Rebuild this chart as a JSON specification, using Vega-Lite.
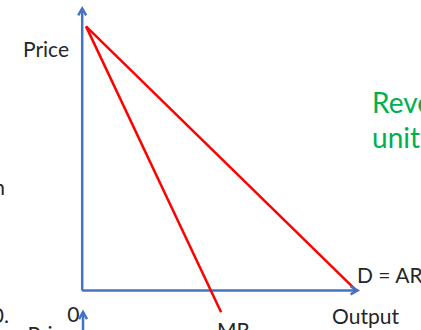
{
  "$schema": "https://vega.github.io/schema/vega-lite/v6.json",
  "width": 421,
  "height": 330,
  "padding": 0,
  "autosize": {"type": "none"},
  "background": "white",
  "config": {"view": {"stroke": null}},
  "datasets": {
    "segments": [
      {"name": "price axis", "kind": "axis", "q": 0, "p": 0, "q2": 0, "p2": 10.68},
      {"name": "output axis", "kind": "axis", "q": 0, "p": 0, "q2": 10.05, "p2": 0},
      {"name": "next price axis", "kind": "axis", "q": 0.03, "p": -0.82, "q2": 0.03, "p2": -1.6},
      {"name": "D = AR", "kind": "curve", "q": 0.14, "p": 10.0, "q2": 10.0, "p2": 0.0},
      {"name": "MR", "kind": "curve", "q": 0.14, "p": 10.0, "q2": 5.07, "p2": -0.83}
    ],
    "arrows": [
      {"name": "price axis", "q": 0, "p": 10.68, "dir": 0},
      {"name": "output axis", "q": 10.05, "p": 0, "dir": 90},
      {"name": "next price axis", "q": 0.03, "p": -0.82, "dir": 0}
    ],
    "labels": [
      {"text": "Price", "role": "plain", "q": -2.16, "p": 8.84},
      {"text": "0", "role": "plain", "q": -0.55, "p": -1.2},
      {"text": "Output", "role": "plain", "q": 9.12, "p": -1.28},
      {"text": "D = AR", "role": "plain", "q": 10.03, "p": 0.28},
      {"text": "MR", "role": "plain", "q": 4.92, "p": -1.8},
      {"text": "n", "role": "plain", "q": -3.25, "p": 3.61},
      {"text": "0.", "role": "plain", "q": -3.3, "p": -1.23},
      {"text": "Price", "role": "plain", "q": -2.0, "p": -1.95},
      {"text": "Revenue per", "role": "note", "q": 10.58, "p": 6.72},
      {"text": "unit", "role": "note", "q": 10.58, "p": 5.4}
    ]
  },
  "encoding": {
    "x": {"field": "q", "type": "quantitative", "scale": {"domain": [-3, 12.365], "nice": false, "zero": false}, "axis": null},
    "y": {"field": "p", "type": "quantitative", "scale": {"domain": [-1.5, 11], "nice": false, "zero": false}, "axis": null}
  },
  "layer": [
    {
      "data": {"name": "segments"},
      "mark": {"type": "rule", "strokeWidth": 2.5},
      "encoding": {
        "x2": {"field": "q2"},
        "y2": {"field": "p2"},
        "color": {"field": "kind", "type": "nominal", "scale": {"domain": ["axis", "curve"], "range": ["#4472C4", "#FF0000"]}, "legend": null}
      }
    },
    {
      "data": {"name": "arrows"},
      "mark": {"type": "point", "shape": "M-0.57,1L0,0L0.57,1", "filled": false, "size": 196, "stroke": "#4472C4", "strokeWidth": 2.5, "opacity": 1, "strokeJoin": "miter"},
      "encoding": {
        "angle": {"field": "dir", "type": "quantitative", "scale": null}
      }
    },
    {
      "data": {"name": "labels"},
      "transform": [{"filter": "datum.role === 'plain'"}],
      "mark": {"type": "text", "align": "left", "baseline": "alphabetic", "font": "Lato", "fontSize": 21, "fill": "#262626"},
      "encoding": {"text": {"field": "text"}}
    },
    {
      "data": {"name": "labels"},
      "transform": [{"filter": "datum.role === 'note'"}],
      "mark": {"type": "text", "align": "left", "baseline": "alphabetic", "font": "Lato", "fontSize": 28, "fill": "#00B050"},
      "encoding": {"text": {"field": "text"}}
    }
  ]
}
